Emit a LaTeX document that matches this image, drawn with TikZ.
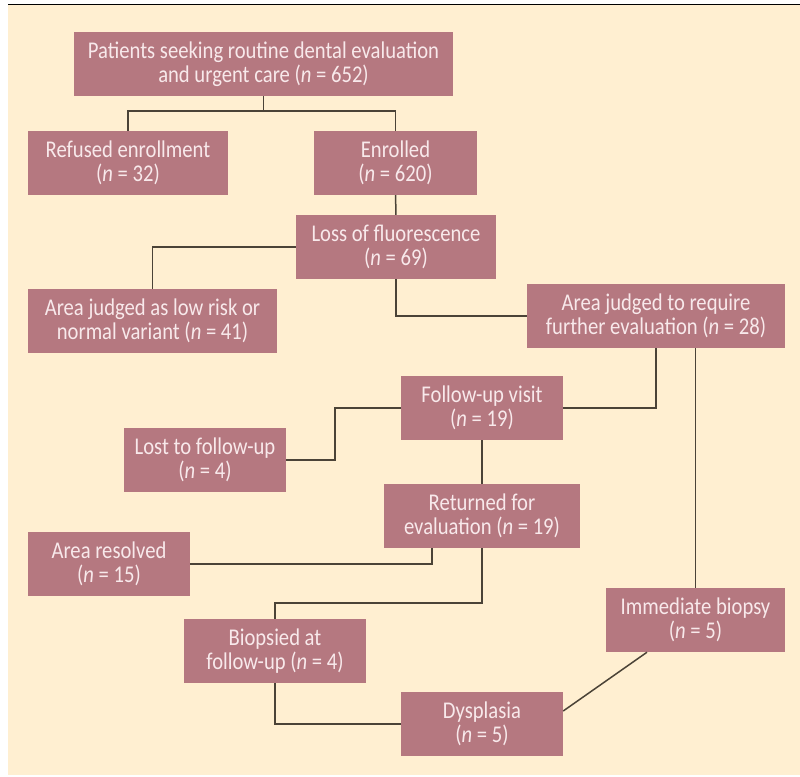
\documentclass[tikz,border=0pt]{standalone}
\usepackage{fontspec}
\setmainfont{Carlito}[FakeStretch=0.86]
\usepackage{tikz}
\usetikzlibrary{positioning,calc}
\definecolor{boxfill}{HTML}{B57880}
\definecolor{boxtext}{HTML}{F8E9EB}
\definecolor{paper}{HTML}{FFEFD1}
\definecolor{wire}{HTML}{4B4337}
\newcommand{\nn}[1]{(\textit{n}~=~#1)}

\begin{document}
\begin{tikzpicture}[x=1pt, y=-1pt,
  box/.style={rectangle, fill=boxfill, text=boxtext, align=center, minimum height=64pt, inner sep=2pt, font=\fontsize{24}{24}\selectfont},
  link/.style={draw=wire, line width=1.5pt}]
\useasboundingbox (0,0) rectangle (800,776);
\fill [paper] (8,5) rectangle (800,775);
\draw [line width=1.5pt, black] (8,4.5) -- (800,4.5);
\node (top) at (263.5, 64) [box, minimum width=379pt] {Patients seeking routine dental evaluation\\and urgent care \nn{652}};
\node (refused) at (128, 163) [box, minimum width=200pt] {Refused enrollment\\\nn{32}};
\node (enrolled) at (395.5, 163) [box, minimum width=163pt] {Enrolled\\\nn{620}};
\node (loss) at (396, 247) [box, minimum width=200pt] {Loss of fluorescence\\\nn{69}};
\node (lowrisk) at (152.5, 321) [box, minimum width=249pt] {Area judged as low risk or\\normal variant \nn{41}};
\node (further) at (656, 316) [box, minimum width=258pt] {Area judged to require\\further evaluation \nn{28}};
\node (followup) at (482, 408) [box, minimum width=162pt] {Follow-up visit\\\nn{19}};
\node (lost) at (205, 460) [box, minimum width=162pt] {Lost to follow-up\\\nn{4}};
\node (returned) at (482, 516) [box, minimum width=196pt] {Returned for\\evaluation \nn{19}};
\node (resolved) at (109, 564) [box, minimum width=162pt] {Area resolved\\\nn{15}};
\node (biopsied) at (275, 651) [box, minimum width=182pt] {Biopsied at\\follow-up \nn{4}};
\node (dysplasia) at (482, 724) [box, minimum width=162pt] {Dysplasia\\\nn{5}};
\node (immediate) at (695.5, 620) [box, minimum width=179pt] {Immediate biopsy\\\nn{5}};
\coordinate (split) at (263.5, 111);
% connectors
\draw [link] (top) -- (split);
\draw [link] (refused.north) |- (split) -| (enrolled.north);
\draw [link] (enrolled) -- (loss);
\draw [link] (loss.west) -| (lowrisk.north);
\draw [link] (loss.south) |- (further.west);
\draw [link] (further.south) |- (followup.east);
\draw [link] (immediate.north) -- (immediate.north |- further.south);
\draw [link] (lost.east) -- ++(49,0) |- (followup.west);
\draw [link] (followup) -- (returned);
\draw [link] (resolved.east) -| ([xshift=-50pt]returned.south);
\draw [link] (returned.south) -- ++(0,55) -| (biopsied.north);
\draw [link] (biopsied.south) |- (dysplasia.west);
\draw [link] ([xshift=-48.5pt]immediate.south) -- ([yshift=13pt]dysplasia.east);
\end{tikzpicture}
\end{document}
